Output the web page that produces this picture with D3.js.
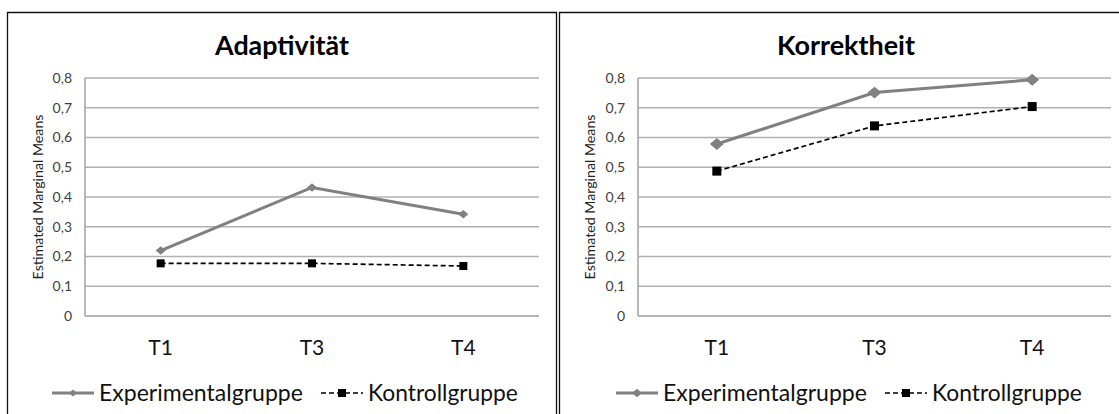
<!DOCTYPE html>
<html><head><meta charset="utf-8">
<script src="https://cdn.jsdelivr.net/npm/d3@7"></script>
<style>
html,body{margin:0;padding:0;background:#fff;overflow:hidden}
svg{display:block;font-family:Lato,"Noto Sans",sans-serif}
</style></head>
<body><svg id="chart" width="1119" height="414"></svg>
<script>
const categories=['T1','T3','T4'];
const yTicks=[0,0.1,0.2,0.3,0.4,0.5,0.6,0.7,0.8];
const seriesNames=['Experimentalgruppe','Kontrollgruppe'];
const titles=['Adaptivität','Korrektheit'];
const adaptExp=[0.22,0.432,0.342];
const adaptKontroll=[0.177,0.177,0.168];
const korrExp=[0.578,0.751,0.794];
const korrKontroll=[0.487,0.639,0.704];
const yLabel='Estimated Marginal Means';

// layout of the two panels (pixels)
const panels=[
  {title:titles[0],exp:adaptExp,kon:adaptKontroll,box:[7.5,556.5],plot:[85,539],cx:282,ylab:38,dia:5,sq:4,legDia:4},
  {title:titles[1],exp:korrExp,kon:korrKontroll,box:[559.5,1130],plot:[638,1111],cx:846,ylab:590,dia:7,sq:4.5,legDia:5}
];
const yTop=78,yBot=316;
const svg=d3.select('#chart');

// shrink/grow a text to a measured width
function fit(t,w){const l=t.node().getComputedTextLength();const fs=parseFloat(t.attr('font-size'));t.attr('font-size',fs*w/l);return t}

const diamond=(x,y,r)=>`M${x},${y-r*0.85}L${x+r},${y}L${x},${y+r*0.85}L${x-r},${y}Z`;

panels.forEach((p,pi)=>{
  const g=svg.append('g');
  // frame
  g.append('path').attr('d',`M${p.box[0]},420V12.5H${p.box[1]}V420`).attr('fill','none').attr('stroke','#111').attr('stroke-width',1.3);

  const x=d3.scaleBand().domain(categories).range(p.plot).padding(0);
  const y=d3.scaleLinear().domain([0,0.8]).range([yBot,yTop]);

  // gridlines
  g.append('g').selectAll('line').data(yTicks).join('line')
    .attr('x1',p.plot[0]).attr('x2',p.plot[1]).attr('y1',d=>y(d)).attr('y2',d=>y(d))
    .attr('stroke',d=>d===0?'#9a9a9a':'#b0b0b0').attr('stroke-width',1.6);
  g.append('line').attr('x1',p.plot[0]).attr('x2',p.plot[0]).attr('y1',yTop).attr('y2',yBot)
    .attr('stroke','#a8a8a8').attr('stroke-width',1.6);

  // y tick labels
  g.append('g').selectAll('text').data(yTicks).join('text')
    .attr('x',p.plot[0]-13).attr('y',d=>y(d)).attr('dy','0.35em').attr('text-anchor','end')
    .attr('font-size',14).attr('fill','#404040')
    .text(d=>d===0?'0':d3.format('.1f')(d).replace('.',','));

  // y axis title
  const yt=g.append('text').attr('transform',`translate(${p.ylab},${(yTop+yBot)/2}) rotate(-90)`)
    .attr('text-anchor','middle').attr('dy','0.35em').attr('font-size',11).attr('fill','#222').text(yLabel);
  fit(yt,165);

  // x labels
  g.append('g').selectAll('text').data(categories).join('text')
    .attr('x',d=>x(d)+x.bandwidth()/2).attr('y',348).attr('dy','0.35em').attr('text-anchor','middle')
    .attr('font-size',21).attr('fill','#111').text(d=>d);

  // title
  const tt=g.append('text').attr('x',p.cx).attr('y',46).attr('dy','0.35em').attr('text-anchor','middle')
    .attr('font-size',19).attr('font-weight','bold').attr('fill','#000').text(p.title);
  fit(tt,pi===0?134:138);

  const line=d3.line().x((d,i)=>x(categories[i])+x.bandwidth()/2).y(d=>y(d));
  // Kontrollgruppe
  g.append('path').datum(p.kon).attr('d',line).attr('fill','none').attr('stroke','#000')
    .attr('stroke-width',1.7).attr('stroke-dasharray','5,3');
  g.append('g').selectAll('rect').data(p.kon).join('rect')
    .attr('x',(d,i)=>x(categories[i])+x.bandwidth()/2-p.sq).attr('y',d=>y(d)-p.sq)
    .attr('width',p.sq*2).attr('height',p.sq*2).attr('fill','#000');
  // Experimentalgruppe
  g.append('path').datum(p.exp).attr('d',line).attr('fill','none').attr('stroke','#808080').attr('stroke-width',3);
  g.append('g').selectAll('path').data(p.exp).join('path')
    .attr('d',(d,i)=>diamond(x(categories[i])+x.bandwidth()/2,y(d),p.dia)).attr('fill','#808080');

  // legend
  const leg=g.append('g');
  const ly=393;
  const t1=leg.append('text').attr('y',ly).attr('dy','0.35em').attr('font-size',19).attr('fill','#111').text(seriesNames[0]);
  fit(t1,204);
  const t2=leg.append('text').attr('y',ly).attr('dy','0.35em').attr('font-size',19).attr('fill','#111').text(seriesNames[1]);
  fit(t2,150);
  const sym=42,gap=5,between=18;
  const total=sym+gap+204+between+sym+gap+150;
  let lx=p.cx-total/2+3;
  leg.append('line').attr('x1',lx).attr('x2',lx+sym).attr('y1',ly).attr('y2',ly).attr('stroke','#808080').attr('stroke-width',3);
  leg.append('path').attr('d',diamond(lx+sym/2,ly,p.legDia)).attr('fill','#808080');
  t1.attr('x',lx+sym+gap);
  lx+=sym+gap+204+between;
  leg.append('line').attr('x1',lx).attr('x2',lx+sym).attr('y1',ly).attr('y2',ly).attr('stroke','#000')
    .attr('stroke-width',1.7).attr('stroke-dasharray','5,3');
  leg.append('rect').attr('x',lx+sym/2-4).attr('y',ly-4).attr('width',8).attr('height',8).attr('fill','#000');
  t2.attr('x',lx+sym+gap);
});
</script></body></html>
